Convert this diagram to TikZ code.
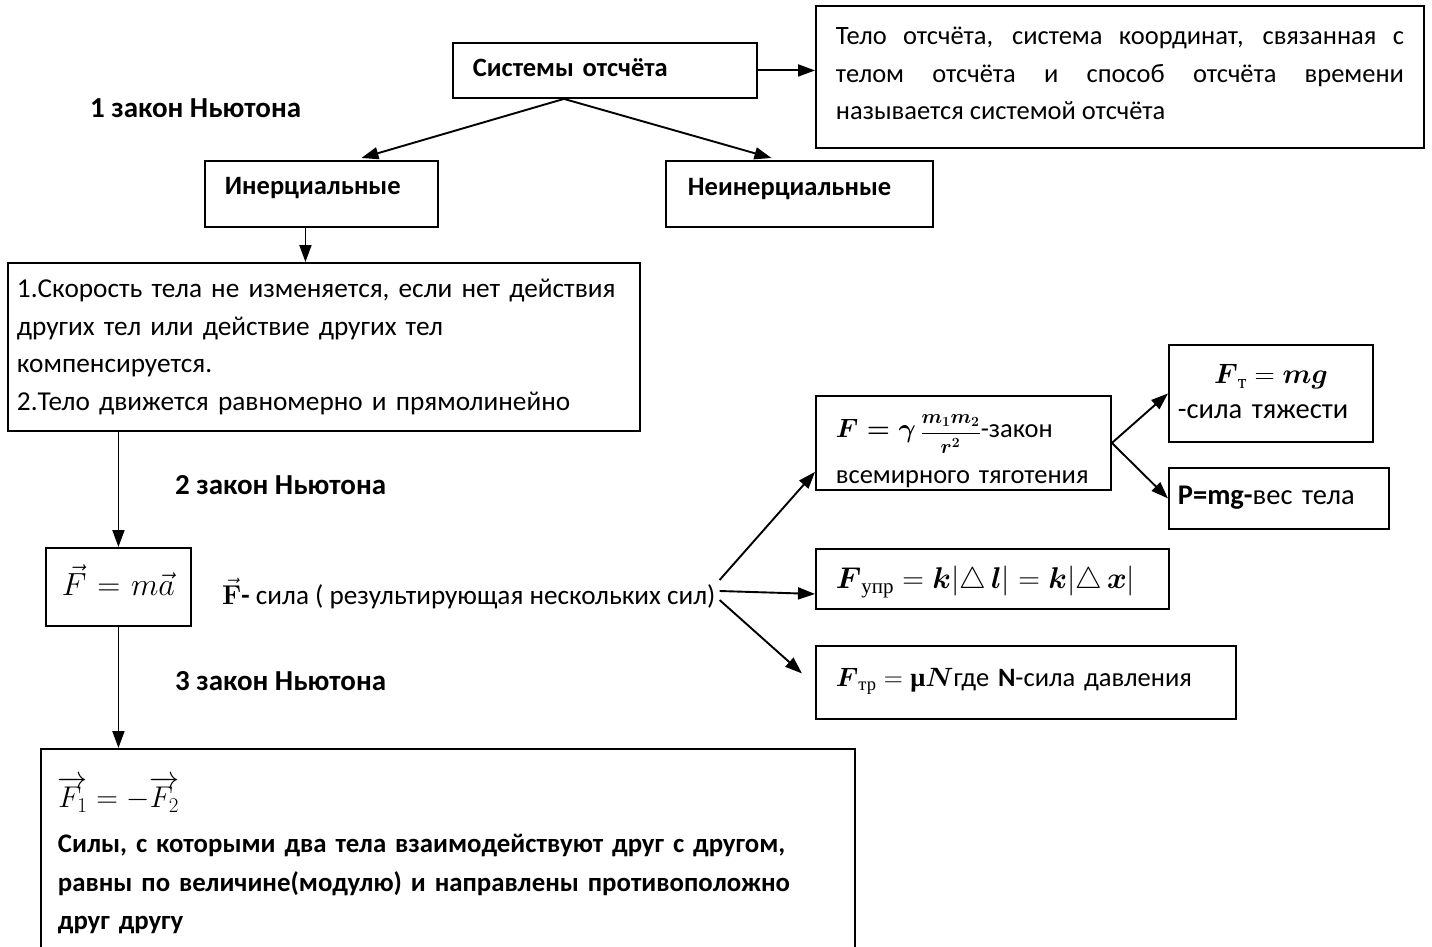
\RequirePackage{fix-cm}
\documentclass[tikz,border=0pt]{standalone}
\usepackage{amsmath}
\usepackage[no-math]{fontspec}
\setmainfont{Carlito}
\newfontfamily\serifcyr{Liberation Serif}
\usetikzlibrary{arrows.meta,calc}
\begin{document}
\begin{tikzpicture}[x=1pt,y=-1pt,
  every node/.style={font=\fontsize{26.5}{37.5}\selectfont},
  bx/.style={draw, line width=1.9pt, anchor=north west, inner ysep=0pt, inner xsep=20pt, align=left},
  lbl/.style={anchor=base west, inner sep=0pt, font=\fontsize{29}{37.5}\selectfont\bfseries},
  arr/.style={line width=1.9pt, -{Triangle[length=17pt,width=12pt]}},
]
\path[use as bounding box] (0,0) rectangle (1432,947);
\clip (0,0) rectangle (1432,947);

\node[bx, text width=264pt, text height=34pt, text depth=21pt] (sys) at (452,42) {\textbf{Системы отсчёта}};
\node[bx, text width=568pt, text height=39pt, text depth=103pt, align=justify] (def) at (815,5)
  {Тело отсчёта, система координат, связанная с\linebreak телом отсчёта и способ отсчёта времени\linebreak называется системой отсчёта};
\node[lbl] (law1) at (90,118) {1 закон Ньютона};
\node[bx, text width=193pt, text height=34pt, text depth=32pt] (inert) at (204,160) {\textbf{Инерциальные}};
\node[bx, inner xsep=22pt, text width=223pt, text height=35pt, text depth=31pt] (noninert) at (665,160) {\textbf{Неинерциальные}};
\node[bx, inner xsep=9pt, text width=614pt, text height=35pt, text depth=133pt, font=\fontsize{27.3}{37.5}\selectfont] (law1box) at (7,262)
  {1.Скорость тела не изменяется, если нет действия\\ других тел или действие других тел\\ компенсируется.\\ 2.Тело движется равномерно и прямолинейно};
\node[lbl] (law2) at (175,494) {2 закон Ньютона};
\node[bx, inner xsep=5pt, text width=135pt, text height=48pt, text depth=30pt, align=center] (fma) at (45,547)
  {\fontsize{32}{36}\selectfont$\vec{F} = m\vec{a}$};
\node[anchor=base west, inner sep=0pt, font=\fontsize{27.2}{37.5}\selectfont] (fdesc) at (222,604) {$\vec{\mathbf F}$\textbf{-} сила ( результирующая нескольких сил)};
\node[lbl] (law3) at (175,690) {3 закон Ньютона};
\node[bx, inner xsep=17pt, text width=780pt, text height=59pt, text depth=153pt, font=\fontsize{26.8}{38.5}\selectfont] (third) at (40,748)
  {\mbox{\fontsize{30}{30}\selectfont$\overrightarrow{F_1} = -\overrightarrow{F_2}$}\\[6.5pt]
   \bfseries Силы, с которыми два тела взаимодействуют друг с другом,\\ равны по величине(модулю) и направлены противоположно\\ друг другу};

\node[bx, text width=255pt, text height=42pt, text depth=52pt] (grav) at (815,395)
  {\mbox{$\boldsymbol{F=\gamma}\,\text{\fontsize{20}{20}\selectfont$\boldsymbol{\dfrac{m_1m_2}{r^2}}$}$-закон}\\[8.5pt]\mbox{всемирного тяготения}};
\node[bx, inner xsep=9pt, text width=186pt, text height=39pt, text depth=58pt, font=\fontsize{28.5}{37.5}\selectfont] (ft) at (1168,344)
  {\makebox[\linewidth]{\fontsize{28}{30}\selectfont$\boldsymbol{F}_{\text{\serifcyr т}} = \boldsymbol{mg}$}\\[-2.5pt]-сила тяжести};
\node[bx, inner xsep=9pt, text width=202pt, text height=37pt, text depth=24pt, font=\fontsize{28.5}{37.5}\selectfont] (pmg) at (1168,467) {\textbf{P=mg-}вес тела};
\node[bx, text width=313pt, text height=40pt, text depth=20pt, font=\fontsize{30}{37.5}\selectfont] (fupr) at (815,548)
  {\mbox{$\boldsymbol{F}_{\text{\serifcyr упр}} = \boldsymbol{k}|\triangle\,\boldsymbol{l}| = \boldsymbol{k}|\triangle\,\boldsymbol{x}|$}};
\node[bx, text width=380pt, text height=41pt, text depth=32pt] (ftr) at (815,645)
  {\mbox{$\boldsymbol{F}_{\text{\serifcyr тр}} = \text{\serifcyr\bfseries μ}\boldsymbol{N}$где \textbf{N}-сила давления}};

\draw[arr] (sys.east) -- (sys.east -| def.west);
\coordinate (s0) at ($(sys.south)+(-41,0)$);
\draw[arr] (s0) -- ($(inert.north)+(40,-2)$);
\draw[arr] (s0) -- ($(noninert.north)+(-28,-2)$);
\coordinate (a1) at ($(inert.south)+(-16,0)$);
\draw[arr] (a1) -- (a1 |- law1box.north);
\draw[arr] (fma.north |- law1box.south) -- (fma.north);
\draw[arr] (fma.south) -- (fma.south |- third.north);
\coordinate (f1) at ($(fdesc.base east)+(4,-24)$);
\coordinate (f2) at ($(fdesc.base east)+(4,-13)$);
\coordinate (f3) at ($(fdesc.base east)+(4,-4)$);
\draw[arr] (f1) -- ($(grav.south west)+(0,-19)$);
\draw[arr] (f2) -- ($(fupr.west)+(0,15)$);
\draw[arr] (f3) -- ($(ftr.west)+(-13,-9)$);
\draw[arr] (grav.east) -- (ft.west);
\draw[arr] (grav.east) -- (pmg.west);
\end{tikzpicture}
\end{document}
